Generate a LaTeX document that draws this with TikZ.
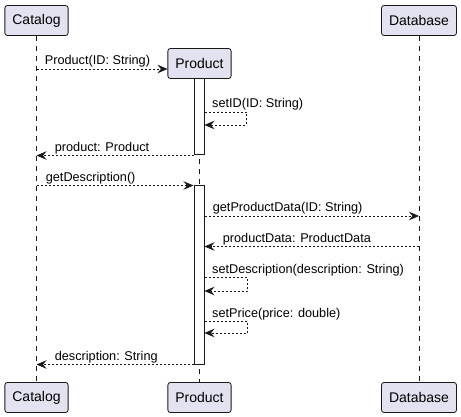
\documentclass[tikz,border=0pt]{standalone}
\usepackage{fontspec}
\setmainfont{Liberation Sans}
\usetikzlibrary{arrows.meta}
\definecolor{partfill}{RGB}{226,226,240}
\definecolor{umlline}{RGB}{24,24,24}

\begin{document}
\begin{tikzpicture}[x=1pt, y=-1pt, line join=bevel,
        partnode/.style={draw=umlline, fill=partfill, rounded corners=2.5pt, line width=0.8pt, minimum height=30pt, inner xsep=7.5pt, font=\fontsize{14}{16}\selectfont},
        actnode/.style={draw=umlline, fill=white, line width=1pt, minimum width=10pt, inner sep=0pt},
        lifeline/.style={draw=umlline, line width=0.5pt, dash pattern=on 5pt off 5pt},
        msg/.style={draw=umlline, line width=0.7pt, dash pattern=on 2pt off 2pt, -{Stealth[length=10pt, width=8.5pt, inset=3.5pt]}},
        msglabel/.style={font=\fontsize{12.7}{15}\selectfont, inner sep=0pt, anchor=base west}]
        \useasboundingbox (0,0) rectangle (461,417);
        % Participants
        \node[partnode] (catTop) at (36.5, 20.5) {Catalog};
        \node[partnode] (prodTop) at (199.5, 63.5) {Product};
        \node[partnode] (dbTop) at (419, 20.5) {Database};
        \node[partnode] (catBot) at (36.5, 397.5) {Catalog};
        \node[partnode] (prodBot) at (199.5, 397.5) {Product};
        \node[partnode] (dbBot) at (419, 397.5) {Database};
        % Lifelines
        \foreach \p in {cat, prod, db} {
          \draw[lifeline] (\p Top.south) -- (\p Bot.north);
        }
        % Activations
        \node[actnode, minimum height=76pt] (actA) at (199, 117) {};
        \node[actnode, minimum height=178pt] (actB) at (199, 275) {};
        % Messages
        \draw[msg] (catTop.south |- 0,69) -- (prodTop.west |- 0,69)
          node[msglabel, at start, xshift=8pt, yshift=4pt] {Product(ID: String)};
        \draw[msg] (actA.east |- 0,112) -- (246,112) -- (246,125) -- (actA.east |- 0,125);
        \node[msglabel] (lblSetID) at (212,108) {setID(ID: String)};
        \draw[msg] (actA.south west) -- (catTop.south |- actA.south west)
          node[msglabel, at end, xshift=18pt, yshift=4pt] {product: Product};
        \draw[msg] (catTop.south |- actB.north west) -- (actB.north west)
          node[msglabel, at start, xshift=9pt, yshift=4pt] {getDescription()};
        \draw[msg] (actB.east |- 0,216) -- (dbTop.south |- 0,216)
          node[msglabel, at start, xshift=8pt, yshift=4pt] {getProductData(ID: String)};
        \draw[msg] (dbTop.south |- 0,246.5) -- (actB.east |- 0,246.5)
          node[msglabel, at end, xshift=18pt, yshift=4pt] {productData: ProductData};
        \draw[msg] (actB.east |- 0,277) -- (247,277) -- (247,291) -- (actB.east |- 0,291);
        \node[msglabel] (lblSetDesc) at (212,273) {setDescription(description: String)};
        \draw[msg] (actB.east |- 0,321) -- (247,321) -- (247,333) -- (actB.east |- 0,333);
        \node[msglabel] (lblSetPrice) at (212,317) {setPrice(price: double)};
        \draw[msg] (actB.south west) -- (catTop.south |- actB.south west)
          node[msglabel, at end, xshift=18pt, yshift=4pt] {description: String};
\end{tikzpicture}
\end{document}
